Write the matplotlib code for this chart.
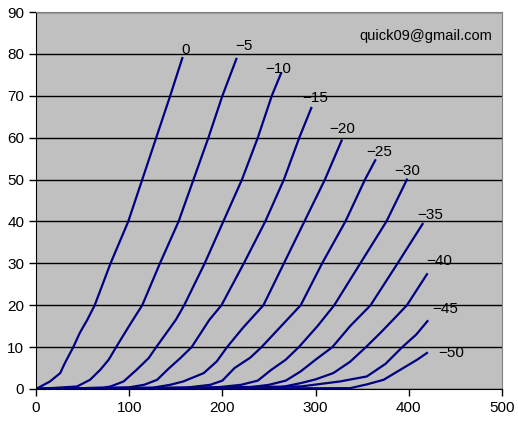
import matplotlib
matplotlib.use("Agg")
import matplotlib.pyplot as plt

plt.rcParams["font.family"] = ["Liberation Sans", "DejaVu Sans"]

# grid bias (V) -> plate curve points (Vp in V, Ip in mA)
GRID = ["0", "-5", "-10", "-15", "-20", "-25", "-30", "-35", "-40", "-45", "-50"]
VP = [
    [0, 5, 15, 26, 31, 40, 47, 55, 63, 80, 99, 114, 129, 144, 157],
    [0, 44, 58, 69, 78, 86, 97, 104, 114, 133, 153, 169, 185, 200, 215],
    [0, 72, 80, 94, 108, 121, 129, 141, 150, 159, 181, 201, 221, 238, 253, 263],
    [0, 100, 116, 130, 142, 155, 167, 186, 199, 223, 246, 266, 282.5, 295.4],
    [0, 125, 144, 158, 180, 194, 205, 222, 244, 266, 288, 310, 327.9],
    [0, 160, 187, 200, 213, 230, 242, 263, 284, 307, 332, 353, 364],
    [0, 190, 220, 238, 252, 268, 282, 302, 320, 348, 376, 398],
    [0, 225, 250, 268, 284, 300, 318, 337, 359, 388, 414.8],
    [0, 260, 284, 300, 319, 337, 354, 370, 383, 398, 419.5],
    [0, 284, 326, 355, 375, 393, 408, 420],
    [0, 337, 355, 373, 391, 409, 419.5],
]
IP = [
    [0, 0.6, 1.8, 3.8, 6.2, 10, 13.4, 16.5, 20, 30, 40, 50, 60, 70, 79],
    [0, 0.6, 2.2, 4.6, 7, 10, 14, 16.5, 20, 30, 40, 50, 60, 70, 78.8],
    [0, 0.3, 0.6, 1.8, 4.6, 7.4, 10, 13.7, 16.5, 20, 30, 40, 50, 60, 70, 75.4],
    [0, 0.4, 1, 2.2, 4.8, 7.4, 10, 16.5, 20, 30, 40, 50, 60, 67.1],
    [0, 0.3, 1, 1.8, 3.8, 6.6, 10, 14.6, 20, 30, 40, 50, 59.3],
    [0, 0.3, 1, 2, 5, 7.5, 10, 15, 20, 30, 40, 50, 54.6],
    [0, 0.3, 1, 2, 4.5, 7, 10, 15, 20, 30, 40, 50],
    [0, 0.3, 1, 2, 4.2, 7, 10, 15, 20, 30, 39.4],
    [0, 0.3, 1.4, 2.3, 3.8, 6.5, 10, 13.5, 16.5, 20, 27.4],
    [0, 0.6, 1.8, 3, 6, 10, 13, 16.2],
    [0, 0.2, 1.1, 2.2, 4.6, 7, 8.6],
]
# label anchor (data coords) for each curve's bias text
LABEL_X = [161, 223, 260, 300, 329, 368, 398, 423, 433, 439, 446]
LABEL_Y = [81, 82, 76.4, 69.5, 62, 56.5, 52, 41.6, 30.5, 19.1, 8.7]

fig = plt.figure(figsize=(5.18, 4.25), dpi=100)
ax = fig.add_axes([36 / 518, 1 - 389 / 425, 466 / 518, 377 / 425])
ax.set_facecolor("#c0c0c0")

for vp, ip in zip(VP, IP):
    ax.plot(vp, ip, color="#000080", lw=1.6, solid_joinstyle="round")

for g, lx, ly in zip(GRID, LABEL_X, LABEL_Y):
    ax.text(lx, ly, g.replace("-", "\u2212"), fontsize=11, ha="center", va="center")

ax.text(418, 84.3, "quick09@gmail.com", fontsize=10.5, ha="center", va="center")

ax.set_xlim(0, 500)
ax.set_ylim(0, 90)
ax.set_xticks(range(0, 501, 100))
ax.set_yticks(range(0, 91, 10))
ax.yaxis.grid(True, color="black", lw=1)
ax.set_axisbelow(True)
ax.tick_params(direction="out", length=5, width=1, labelsize=11, colors="black")
for side in ("top", "right"):
    ax.spines[side].set_color("#808080")
for side in ("left", "bottom"):
    ax.spines[side].set_color("black")

fig.savefig("out.png", dpi=100)
